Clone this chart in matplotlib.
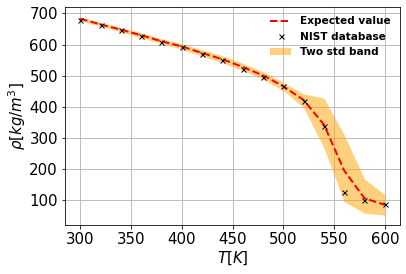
import matplotlib
matplotlib.use("Agg")
import matplotlib.pyplot as plt
import numpy as np

T = [300, 320, 340, 360, 380, 400, 420, 440, 460, 480, 500, 520, 540, 560, 580, 600]
nist = [680, 663, 646, 627, 607, 591, 569, 549, 523, 497, 466, 420, 339, 126, 101, 88]
expected = [683, 665, 648, 630, 611, 594, 573, 553, 528, 501, 466, 422, 343, 195, 106, 85]
band_lower = [677, 659, 641, 622, 603, 585, 563, 542, 516, 489, 452, 398, 268, 95, 58, 52]
band_upper = [689, 671, 655, 638, 619, 603, 583, 564, 540, 513, 478, 442, 428, 310, 168, 118]

fig = plt.figure(figsize=(406/72, 274/72), dpi=72)
ax = fig.add_axes([65/406, 1-225/274, 335/406, 218/274])

ax.fill_between(T, band_lower, band_upper, color='orange', alpha=0.5, lw=0, label='Two std band')
ax.plot(T, expected, 'r--', lw=2, label='Expected value')
ax.plot(T, nist, 'kx', ms=5, label='NIST database')

ax.grid(True, color='#b0b0b0')
ax.set_axisbelow(True)
ax.tick_params(labelsize=15)
ax.set_xlabel(r'$T [K]$', fontsize=15, labelpad=3)
ax.set_ylabel(r'$\rho [kg/m^3]$', fontsize=15, labelpad=1)
ax.set_xticks([300, 350, 400, 450, 500, 550, 600])
ax.set_yticks([100, 200, 300, 400, 500, 600, 700])

h, l = ax.get_legend_handles_labels()
order = [l.index('Expected value'), l.index('NIST database'), l.index('Two std band')]
ax.legend([h[i] for i in order], [l[i] for i in order], frameon=False,
          prop={'weight': 'bold', 'size': 10.5}, loc='upper right')

fig.savefig('out.png', dpi=72)
